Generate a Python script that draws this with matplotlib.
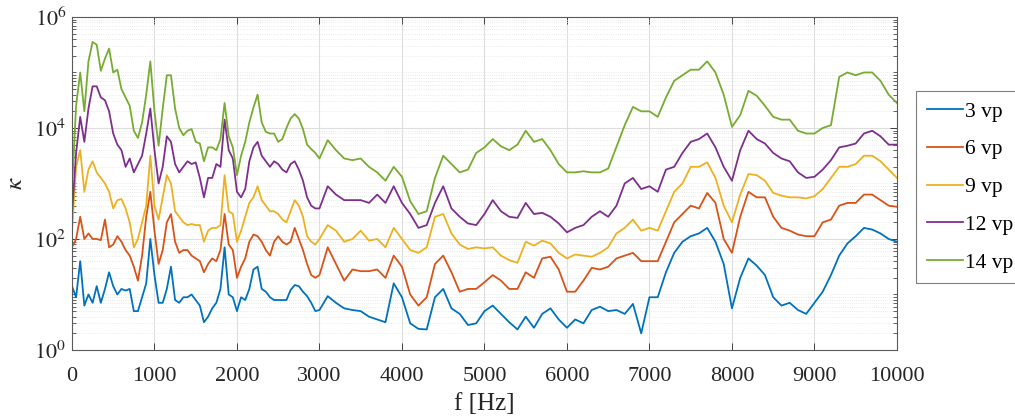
import matplotlib
matplotlib.use('Agg')
import matplotlib.pyplot as plt
import matplotlib.ticker as mticker
import numpy as np

plt.rcParams['font.family'] = ['Liberation Serif', 'DejaVu Serif']
plt.rcParams['mathtext.fontset'] = 'stix'

# frequency grid [Hz]: 50 Hz steps up to 3000, then 100 Hz steps
freq = np.concatenate([np.arange(0, 3001, 50), np.arange(3100, 10001, 100)])

# log10(kappa)
k3_log = [1.15, 0.95, 1.6, 0.8, 1.0, 0.85, 1.15, 0.85, 1.1, 1.4,
          1.15, 1.0, 1.1, 1.07, 1.1, 0.7, 0.7, 0.95, 1.2, 2.0,
          1.35, 0.85, 0.85, 1.1, 1.5, 0.9, 0.85, 0.95, 0.95, 1.0,
          0.9, 0.8, 0.5, 0.6, 0.75, 0.85, 1.1, 1.85, 1.0, 0.95,
          0.7, 0.95, 0.9, 1.1, 1.45, 1.5, 1.1, 1.05, 0.95, 0.9,
          0.9, 0.9, 0.9, 1.08, 1.17, 1.15, 1.05, 0.97, 0.85, 0.7,
          0.72,
          0.97, 0.85, 0.75, 0.72, 0.7, 0.6, 0.55, 0.5, 1.2, 0.95,
          0.48, 0.38, 0.37, 0.95, 1.1, 0.75, 0.65, 0.45, 0.48, 0.7,
          0.8, 0.65, 0.5, 0.37, 0.6, 0.4, 0.65, 0.75, 0.55, 0.4,
          0.55, 0.48, 0.72, 0.78, 0.7, 0.72, 0.65, 0.83, 0.3, 0.95,
          0.95, 1.4, 1.75, 1.95, 2.05, 2.1, 2.2, 1.95, 1.55, 0.75,
          1.3, 1.65, 1.52, 1.35, 0.95, 0.8, 0.85, 0.72, 0.65, 0.85,
          1.05, 1.35, 1.7, 1.92, 2.05, 2.2, 2.17, 2.1, 2.0, 1.95]

k6_log = [1.85, 2.0, 2.4, 2.0, 2.1, 2.0, 2.0, 1.98, 2.35, 1.85,
          1.9, 2.05, 1.95, 1.8, 1.7, 1.5, 1.25, 1.7, 2.4, 2.85,
          2.15, 1.55, 1.8, 2.3, 2.45, 1.95, 1.75, 1.8, 1.8, 1.7,
          1.65, 1.6, 1.4, 1.55, 1.65, 1.6, 1.8, 2.45, 1.9, 1.8,
          1.3, 1.5, 1.65, 1.95, 2.08, 2.05, 1.95, 1.8, 1.7, 1.95,
          2.05, 1.95, 1.9, 1.95, 2.2, 2.0, 1.8, 1.55, 1.35, 1.3,
          1.35,
          1.85, 1.55, 1.25, 1.45, 1.42, 1.42, 1.45, 1.3, 1.7, 1.5,
          1.0, 0.8, 0.95, 1.55, 1.7, 1.4, 1.05, 1.1, 1.1, 1.22,
          1.35, 1.25, 1.1, 1.1, 1.4, 1.3, 1.65, 1.68, 1.45, 1.05,
          1.05, 1.25, 1.48, 1.45, 1.5, 1.65, 1.7, 1.75, 1.6, 1.6,
          1.6, 1.95, 2.3, 2.45, 2.6, 2.55, 2.83, 2.65, 2.0, 1.75,
          2.4, 2.85, 2.75, 2.75, 2.4, 2.2, 2.15, 2.08, 2.05, 2.05,
          2.3, 2.35, 2.6, 2.65, 2.65, 2.8, 2.8, 2.7, 2.6, 2.58]

k9_log = [2.15, 3.3, 3.6, 2.85, 3.25, 3.4, 3.2, 3.1, 3.0, 2.85,
          2.55, 2.7, 2.72, 2.55, 2.3, 1.85, 2.0, 2.3, 2.6, 3.5,
          2.6, 2.35, 2.75, 3.15, 3.0, 2.5, 2.4, 2.3, 2.25, 2.27,
          2.25, 2.25, 1.95, 2.15, 2.2, 2.2, 2.25, 3.15, 2.5, 2.45,
          1.95, 2.15, 2.4, 2.65, 2.75, 2.95, 2.7, 2.6, 2.5, 2.5,
          2.45, 2.35, 2.3, 2.5, 2.7, 2.6, 2.4, 2.05, 1.95, 1.9,
          2.0,
          2.25, 2.15, 1.95, 2.0, 2.15, 1.97, 2.0, 1.85, 2.2, 2.0,
          1.8, 1.75, 1.85, 2.4, 2.45, 2.1, 1.9, 1.82, 1.85, 1.83,
          1.85, 1.7, 1.62, 1.57, 1.95, 1.88, 1.97, 1.92, 1.75, 1.65,
          1.72, 1.7, 1.68, 1.75, 1.85, 2.1, 2.2, 2.35, 2.15, 2.2,
          2.15, 2.5, 2.85, 3.0, 3.3, 3.3, 3.38, 3.1, 2.6, 2.3,
          2.8, 3.17, 3.15, 3.05, 2.83, 2.78, 2.75, 2.75, 2.73, 2.77,
          2.9, 3.1, 3.3, 3.3, 3.35, 3.5, 3.5, 3.4, 3.25, 3.1]

k12_log = [2.45, 3.55, 4.2, 3.75, 4.35, 4.75, 4.75, 4.55, 4.5, 4.3,
           3.9, 3.7, 3.6, 3.3, 3.45, 3.2, 3.35, 3.5, 3.9, 4.35,
           3.6, 3.0, 3.3, 3.85, 3.75, 3.35, 3.2, 3.3, 3.4, 3.35,
           3.38, 3.1, 2.75, 3.1, 3.1, 3.35, 3.3, 4.15, 3.6, 3.45,
           2.85, 2.75, 2.9, 3.4, 3.65, 3.75, 3.5, 3.4, 3.3, 3.4,
           3.35, 3.25, 3.2, 3.35, 3.4, 3.25, 3.05, 2.75, 2.6, 2.55,
           2.55,
           2.95, 2.8, 2.7, 2.7, 2.7, 2.65, 2.8, 2.65, 2.95, 2.65,
           2.45, 2.2, 2.25, 2.65, 2.95, 2.55, 2.4, 2.28, 2.25, 2.45,
           2.7, 2.5, 2.4, 2.38, 2.65, 2.45, 2.47, 2.4, 2.28, 2.12,
           2.2, 2.25, 2.4, 2.5, 2.4, 2.6, 3.0, 3.1, 2.9, 2.95,
           2.85, 3.25, 3.3, 3.55, 3.75, 3.8, 3.9, 3.65, 3.3, 3.05,
           3.6, 3.95, 3.8, 3.72, 3.55, 3.45, 3.4, 3.2, 3.1, 3.12,
           3.25, 3.42, 3.65, 3.68, 3.72, 3.9, 3.95, 3.85, 3.7, 3.7]

k14_log = [2.88, 4.4, 5.0, 4.3, 5.2, 5.55, 5.5, 5.03, 5.25, 5.43,
           5.0, 5.05, 4.7, 4.55, 4.4, 3.95, 3.82, 4.1, 4.6, 5.2,
           4.3, 3.68, 4.35, 4.95, 4.95, 4.35, 4.0, 3.87, 3.95, 3.98,
           3.75, 3.72, 3.4, 3.65, 3.65, 3.6, 3.8, 4.45, 3.85, 3.65,
           3.15, 3.5, 3.75, 4.1, 4.37, 4.6, 4.1, 3.93, 3.9, 3.9,
           3.75, 3.8, 4.0, 4.17, 4.25, 4.17, 3.98, 3.7, 3.62, 3.55,
           3.45,
           3.78, 3.6, 3.45, 3.42, 3.45, 3.3, 3.2, 3.05, 3.3, 3.12,
           2.68, 2.45, 2.5, 3.1, 3.5, 3.35, 3.2, 3.25, 3.55, 3.65,
           3.8, 3.67, 3.6, 3.7, 3.95, 3.75, 3.8, 3.6, 3.35, 3.2,
           3.2, 3.22, 3.2, 3.2, 3.27, 3.66, 4.05, 4.38, 4.3, 4.3,
           4.2, 4.55, 4.85, 4.95, 5.05, 5.05, 5.2, 5.0, 4.6, 4.02,
           4.23, 4.67, 4.58, 4.4, 4.2, 4.15, 4.15, 3.95, 3.9, 3.9,
           4.0, 4.05, 4.92, 5.0, 4.95, 5.0, 5.0, 4.85, 4.6, 4.45]

labels = ['3 vp', '6 vp', '9 vp', '12 vp', '14 vp']
colors = ['#0072BD', '#D95319', '#EDB120', '#7E2F8E', '#77AC30']
series = [k3_log, k6_log, k9_log, k12_log, k14_log]

fig = plt.figure(figsize=(10.15, 4.16), dpi=100)
ax = fig.add_axes([0.0709, 0.1587, 0.8128, 0.8005])

for s, c, lab in zip(series, colors, labels):
    ax.semilogy(freq, 10 ** np.array(s), color=c, lw=1.3, label=lab)

ax.set_xlim(0, 10000)
ax.set_ylim(1, 1e6)
ax.set_xticks(np.arange(0, 10001, 1000))
ax.yaxis.set_major_locator(mticker.FixedLocator([1, 1e2, 1e4, 1e6]))
ax.yaxis.set_major_formatter(mticker.FuncFormatter(lambda v, p: r'$10^{%d}$' % round(np.log10(v))))
ax.yaxis.set_minor_locator(mticker.LogLocator(base=10, subs=np.arange(1, 10), numticks=20))
ax.yaxis.set_minor_formatter(mticker.NullFormatter())

ax.grid(True, which='major', color='#dedede', lw=0.8, ls='-')
ax.grid(True, which='minor', axis='y', color='#e4e4e4', lw=0.6, ls=':')
ax.set_axisbelow(True)

ax.tick_params(which='both', direction='in', top=True, right=True, colors='#262626', labelsize=16)
ax.tick_params(which='major', length=5, width=0.6)
ax.tick_params(which='minor', length=3, width=0.5)
ax.tick_params(axis='x', pad=12)
ax.tick_params(axis='y', pad=4)
for sp in ax.spines.values():
    sp.set_color('#5a5a5a')
    sp.set_linewidth(0.8)

ax.set_xlabel('f [Hz]', fontsize=18, labelpad=5, color='#262626')
ax.set_ylabel(r'$\kappa$', fontsize=18, labelpad=5, color='#262626')

leg = ax.legend(loc='upper left', bbox_to_anchor=(1.023, 0.778), fontsize=15.5,
                frameon=True, fancybox=False, edgecolor='#7f7f7f', framealpha=1,
                handlelength=1.7, handletextpad=0.1, labelspacing=0.82,
                borderpad=0.5, borderaxespad=0)
leg.get_frame().set_linewidth(0.8)

fig.savefig('out.png', dpi=100)
